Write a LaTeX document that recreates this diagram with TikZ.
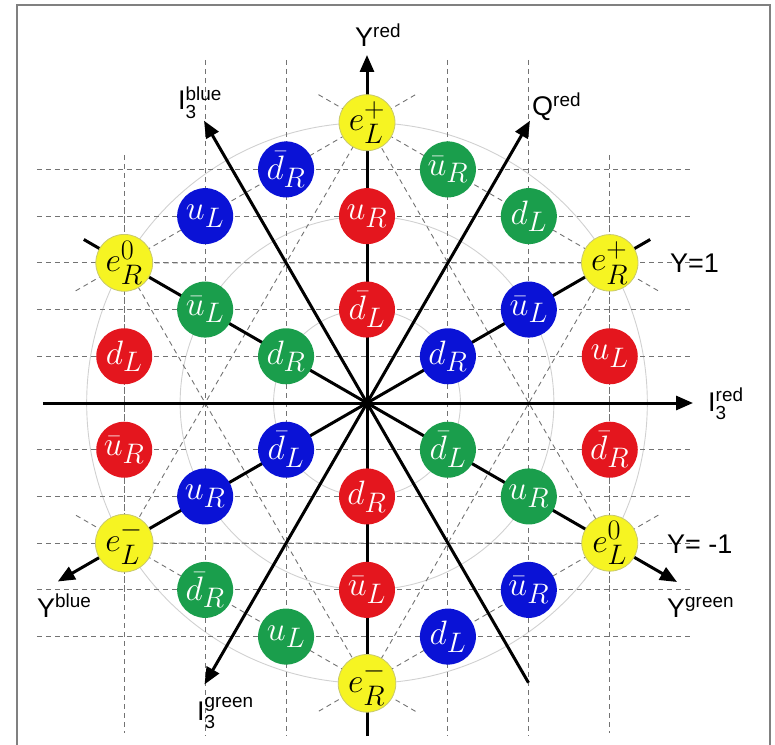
\documentclass[tikz,border=0pt]{standalone}
\usepackage{amsmath}
\usepackage{graphicx}
\usepackage{fontspec}
\setsansfont{Liberation Sans}
\usetikzlibrary{calc,arrows.meta}

\definecolor{qred}{RGB}{228,22,30}
\definecolor{qblue}{RGB}{10,18,214}
\definecolor{qgreen}{RGB}{26,158,76}
\definecolor{qyellow}{RGB}{246,244,34}
\definecolor{qrim}{RGB}{200,200,110}

\newcommand{\plab}[1]{\scalebox{1.36}{$#1$}}

\tikzset{
  particle/.style={circle,minimum size=56pt,inner sep=0pt,font=\fontsize{24.88}{28}\selectfont},
  qr/.style={fill=qred,text=white},
  qb/.style={fill=qblue,text=white},
  qg/.style={fill=qgreen,text=white},
  lep/.style={fill=qyellow,draw=qrim,line width=0.8pt,text=black},
  guide/.style={black!55,line width=0.9pt,dash pattern=on 5pt off 4pt},
  ring/.style={black!18,line width=0.9pt},
  axis/.style={line width=3pt,-{Triangle[length=17pt,width=14pt]}},
  axislabel/.style={font=\sffamily\fontsize{27}{30}\selectfont,inner sep=0pt},
}

\begin{document}
\begin{tikzpicture}[x=1pt,y=1pt]
  \def\hx{80.92}
  \def\hy{46.72}
  \useasboundingbox (-367,-341) rectangle (408,403);
  \draw[black!50,line width=2.5pt] (-350,-345) -- (-350,398) -- (403,398) -- (403,-345);
  % weight circles of radius 2, 4 and 6 steps
  \foreach \r in {2,4,6}
    \draw[ring] (0,0) circle[radius=\r*\hy];
  % dashed lattice
  \foreach \j in {-5,...,-1,1,2,3,4,5}
    \draw[guide] (-330,{\j*\hy}) -- (323,{\j*\hy});
  \foreach \i in {-2,-1,1,2}
    \draw[guide] ({\i*\hx},343) -- ({\i*\hx},-333);
  \foreach \i in {-3,3}
    \draw[guide] ({\i*\hx},248) -- ({\i*\hx},-330);
  % lepton hexagon and the two triangles
  \foreach \n/\i/\j in {eLp/0/6, eRp/3/3, eLz/3/-3, eRm/0/-6, eLm/-3/-3, eRz/-3/3}
    \coordinate (\n) at ({\i*\hx},{\j*\hy});
  \foreach \a/\b in {eLp/eRp, eRp/eLz, eLz/eRm, eRm/eLm, eLm/eRz, eRz/eLp}
    \draw[guide] ($(\a)!-0.2!(\b)$) -- ($(\b)!-0.2!(\a)$);
  \draw[guide] (eLp) -- (eLm) -- (eLz) -- cycle;
  \draw[guide] (eRp) -- (eRz) -- (eRm) -- cycle;
  % charge axes
  \coordinate (O) at (0,0);
  \coordinate (Yrtip) at (0,348);
  \coordinate (Yrend) at (0,-333);
  \coordinate (Irtip) at (326,0);
  \coordinate (Irend) at (-324,0);
  \coordinate (Qtip) at (60:326);
  \coordinate (Igtip) at (240:325);
  \coordinate (Ibtip) at (120:326);
  \coordinate (Ibend) at (-60:323);
  \coordinate (Ygtip) at (-30:358);
  \coordinate (Ygend) at (150:327);
  \coordinate (Ybtip) at (210:357);
  \coordinate (Ybend) at (30:327);
  \draw[axis] (Yrend) -- (Yrtip);
  \draw[axis] (Irend) -- (Irtip);
  \draw[axis] (O) -- (Qtip);
  \draw[axis] (O) -- (Igtip);
  \draw[axis] (Ibend) -- (Ibtip);
  \draw[axis] (Ygend) -- (Ygtip);
  \draw[axis] (Ybend) -- (Ybtip);
  % one generation of fermions
  \foreach \i/\j/\sty/\nm/\lab in {
      0/6/lep/pLp/{e^+_L}, 0/4/qr/uRr/{u_R}, 0/2/qr/dbLr/{\bar d_L},
      0/-2/qr/dRr/{d_R}, 0/-4/qr/ubLr/{\bar u_L}, 0/-6/lep/pRm/{e^-_R},
      -1/5/qb/dbRb/{\bar d_R}, 1/5/qg/ubRg/{\bar u_R},
      -2/4/qb/uLb/{u_L}, 2/4/qg/dLg/{d_L},
      -3/3/lep/pRz/{e^0_R}, 3/3/lep/pRp/{e^+_R},
      -2/2/qg/ubLg/{\bar u_L}, 2/2/qb/ubLb/{\bar u_L},
      -3/1/qr/dLr/{d_L}, -1/1/qg/dRg/{d_R}, 1/1/qb/dRb/{d_R}, 3/1/qr/uLr/{u_L},
      -3/-1/qr/ubRr/{\bar u_R}, -1/-1/qb/dbLb/{\bar d_L},
      1/-1/qg/dbLg/{\bar d_L}, 3/-1/qr/dbRr/{\bar d_R},
      -2/-2/qb/uRb/{u_R}, 2/-2/qg/uRg/{u_R},
      -3/-3/lep/pLm/{e^-_L}, 3/-3/lep/pLz/{e^0_L},
      -2/-4/qg/dbRg/{\bar d_R}, 2/-4/qb/ubRb/{\bar u_R},
      -1/-5/qg/uLg/{u_L}, 1/-5/qb/dLb/{d_L}}
    \node[particle,\sty] (\nm) at ({\i*\hx},{\j*\hy}) {\plab{\lab}};
  % axis names
  \node[axislabel,anchor=base west] (Yrlab) at (-12,356) {Y$^{\text{red}}$};
  \node[axislabel,anchor=base west] (Qlab) at (165,287) {Q$^{\text{red}}$};
  \node[axislabel,anchor=base west] (Iblab) at (-189,293) {I$_{\text{3}}^{\text{blue}}$};
  \node[axislabel,anchor=base west] (Irlab) at (341,-8) {I$_{\text{3}}^{\text{red}}$};
  \node[axislabel,anchor=base west] (Iglab) at (-170,-317) {I$_{\text{3}}^{\text{green}}$};
  \node[axislabel,anchor=base west] (Yblab) at (-330,-214) {Y$^{\text{blue}}$};
  \node[axislabel,anchor=base west] (Yglab) at (300,-214) {Y$^{\text{green}}$};
  \node[axislabel,anchor=base west] (Yone) at (303,130) {Y=1};
  \node[axislabel,anchor=base west] (Ymone) at (300,-150) {Y= -1};
\end{tikzpicture}
\end{document}
